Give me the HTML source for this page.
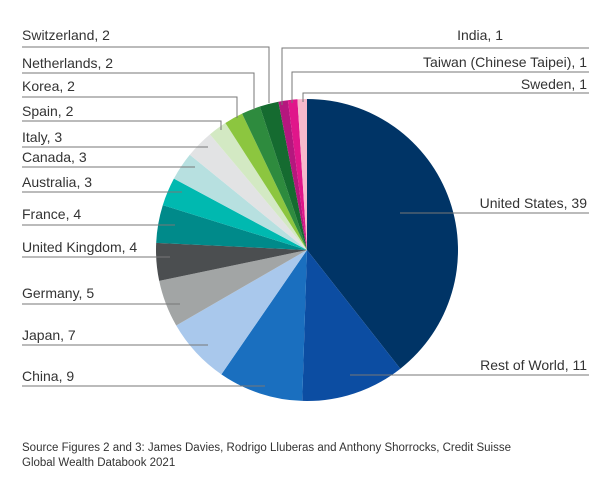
<!DOCTYPE html>
<html><head><meta charset="utf-8"><style>
body{margin:0;background:#fff;width:610px;height:481px;overflow:hidden}
text{font-family:"Liberation Sans",sans-serif;font-size:14px;fill:#333}
</style></head><body>
<svg id="s" width="610" height="481" viewBox="0 0 610 481">
<g id="pie"></g>
<g stroke="#777" stroke-width="1" fill="none">
<polyline points="22,47 269,47 269,103"/>
<polyline points="22,73 254,73 254,110"/>
<polyline points="22,97 237,97 237,118"/>
<polyline points="22,121 221,121 221,130"/>
<polyline points="22,147 208,147"/>
<polyline points="22,167 195,167"/>
<polyline points="22,192 182,192"/>
<polyline points="22,225 175,225"/>
<polyline points="22,257 170,257"/>
<polyline points="22,304 180,304"/>
<polyline points="22,345 208,345"/>
<polyline points="22,386 265,386"/>
<polyline points="589,48 282,48 282,105"/>
<polyline points="589,72 292,72 292,103"/>
<polyline points="589,93 303,93 303,102"/>
<polyline points="589,213 400,213"/>
<polyline points="589,375 350,375"/>
</g>
<text x="22" y="40">Switzerland, 2</text>
<text x="22" y="68">Netherlands, 2</text>
<text x="22" y="91">Korea, 2</text>
<text x="22" y="116">Spain, 2</text>
<text x="22" y="142">Italy, 3</text>
<text x="22" y="162">Canada, 3</text>
<text x="22" y="187">Australia, 3</text>
<text x="22" y="219">France, 4</text>
<text x="22" y="252">United Kingdom, 4</text>
<text x="22" y="298">Germany, 5</text>
<text x="22" y="340">Japan, 7</text>
<text x="22" y="381">China, 9</text>
<text x="503" y="40" text-anchor="end">India, 1</text>
<text x="587" y="67" text-anchor="end">Taiwan (Chinese Taipei), 1</text>
<text x="587" y="89" text-anchor="end">Sweden, 1</text>
<text x="587" y="208" text-anchor="end">United States, 39</text>
<text x="587" y="370" text-anchor="end">Rest of World, 11</text>
<text x="22" y="451" style="font-size:11.5px">Source Figures 2 and 3: James Davies, Rodrigo Lluberas and Anthony Shorrocks, Credit Suisse</text>
<text x="22" y="466" style="font-size:11.5px">Global Wealth Databook 2021</text>
</svg>
<script>
var d=[[39,"#003466"],[11,"#0c4da2"],[9,"#1a6fbf"],[7,"#a9c8ec"],[5,"#a2a5a5"],[4,"#4b4e50"],[4,"#008a8a"],[3,"#00b9b0"],[3,"#b7e0e0"],[3,"#e2e3e4"],[2,"#d3e9c3"],[2,"#8cc63f"],[2,"#2e8b3e"],[2,"#156b30"],[1,"#b5177e"],[1,"#e0168a"],[1,"#f7b9cc"]];
var cx=307,cy=250,r=151,t=0,tot=99,g=document.getElementById("pie"),h="";
d.forEach(function(e){var a0=t/tot*2*Math.PI;t+=e[0];var a1=t/tot*2*Math.PI;
var x0=cx+r*Math.sin(a0),y0=cy-r*Math.cos(a0),x1=cx+r*Math.sin(a1),y1=cy-r*Math.cos(a1);
h+='<path d="M'+cx+','+cy+'L'+x0+','+y0+'A'+r+','+r+' 0 '+(a1-a0>Math.PI?1:0)+' 1 '+x1+','+y1+'Z" fill="'+e[1]+'"/>';});
g.innerHTML=h;
</script>
</body></html>
